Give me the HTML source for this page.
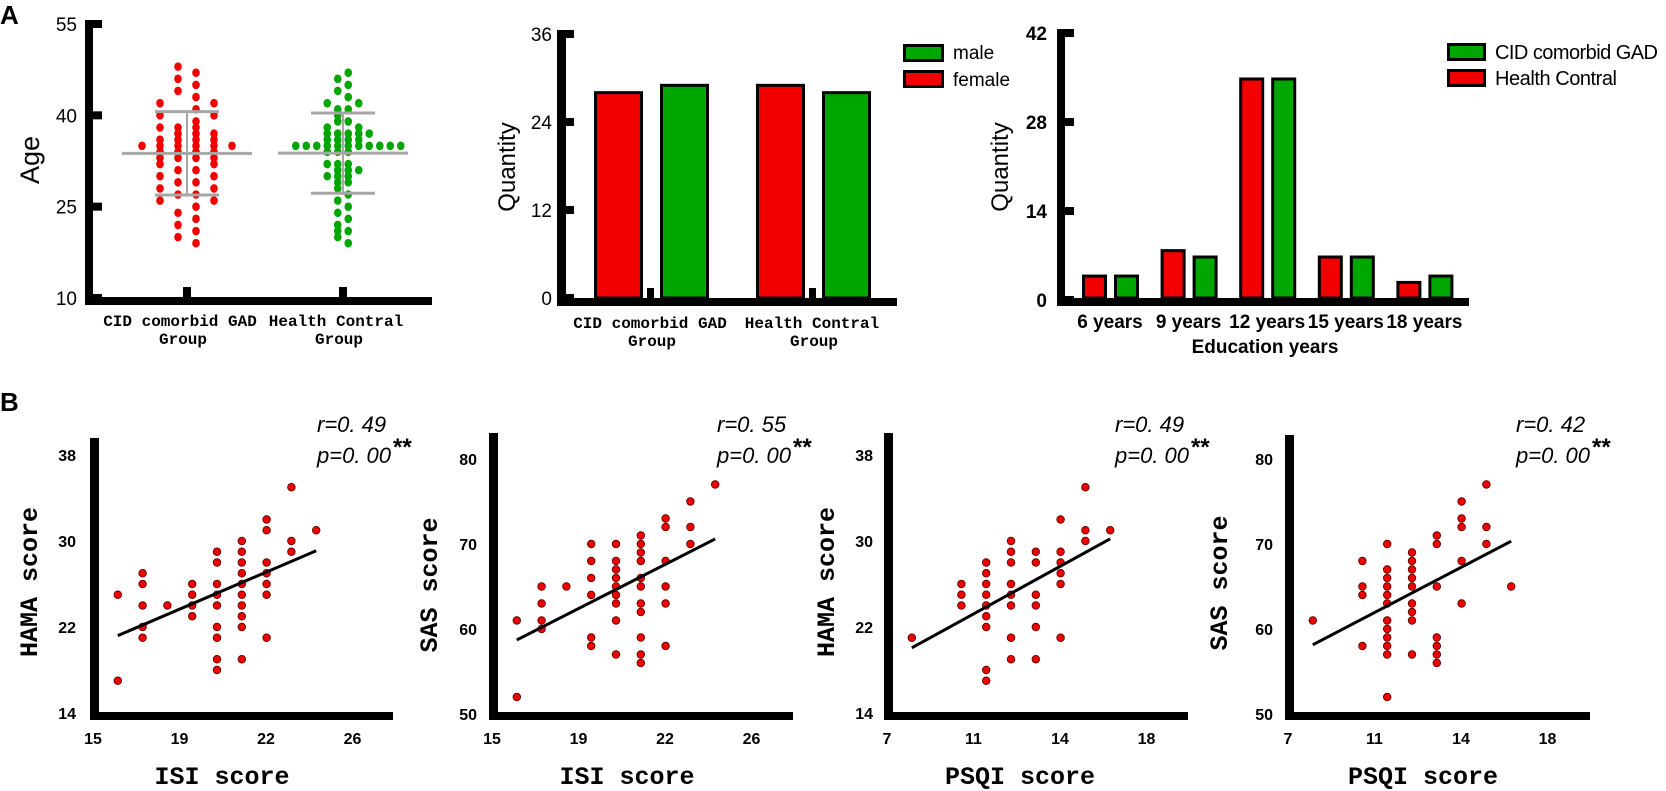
<!DOCTYPE html>
<html><head><meta charset="utf-8"><style>
html,body{margin:0;padding:0;background:#fff;}
svg{display:block;}
text{font-family:"Liberation Sans",sans-serif;fill:#000;}
.mono{font-family:"Liberation Mono","Noto Sans CJK SC",monospace;font-weight:bold;}
.narrow{font-family:"Liberation Sans Narrow","Liberation Sans",sans-serif;}
</style></head><body>
<svg id="fig" width="1666" height="791" viewBox="0 0 1666 791" xmlns="http://www.w3.org/2000/svg">
<text x="0" y="24" font-size="26" font-weight="bold">A</text>
<text x="0" y="411" font-size="26" font-weight="bold">B</text>
</svg>
<script>
// ---------- DATA ----------
const ageGroups = ["CID comorbid GAD", "Health Contral"];
const ageTicks = [10, 25, 40, 55];
const agesCID = [48,47,46,45,44,43,42,42,41,40,40,39,38,38,38,37,37,37,36,36,36,36,35,35,35,35,35,35,34,34,34,34,33,33,33,33,32,32,31,31,30,30,29,29,28,28,27,27,26,26,25,24,23,22,21,20,19];
const agesHC = [47,46,45,44,43,42,42,41,41,40,39,39,38,38,37,37,37,37,37,36,36,36,36,35,35,35,35,35,35,35,35,35,35,35,34,34,34,32,32,32,31,31,31,30,30,30,29,29,28,27,26,25,24,23,22,21,21,20,19];

const sexGroups = ["CID comorbid GAD", "Health Contral"];
const sexTicks = [0, 12, 24, 36];
const femaleCounts = [28, 29];
const maleCounts = [29, 28];

const eduCats = ["6 years", "9 years", "12 years", "15 years", "18 years"];
const eduTicks = [0, 14, 28, 42];
const eduHealth = [4, 8, 35, 7, 3];
const eduCID = [4, 7, 35, 7, 4];

const isiTicks = [15, 19, 22, 26];
const psqiTicks = [7, 11, 14, 18];
const hamaTicks = [14, 22, 30, 38];
const sasTicks = [50, 60, 70, 80];

const b1X = [16,16,17,17,17,17,17,18,19,19,19,19,20,20,20,20,20,20,20,20,20,21,21,21,21,21,21,21,21,21,21,22,22,22,22,22,22,22,23,23,23,24];
const b1Y = [25,17,27,26,24,22,21,24,26,25,24,23,29,28,26,25,24,22,21,19,18,30,29,28,27,26,25,24,23,22,19,32,31,28,27,26,25,21,35,30,29,31];

const b2X = [16,16,17,17,17,17,18,19,19,19,19,19,19,20,20,20,20,20,20,20,20,20,21,21,21,21,21,21,21,21,21,21,21,22,22,22,22,22,22,23,23,23,24];
const b2Y = [61,52,65,63,61,60,65,70,68,66,64,59,58,70,68,67,66,65,64,63,61,57,71,70,69,68,66,65,63,62,59,57,56,73,72,68,65,63,58,75,72,70,77];

const b3X = [8,10,10,10,11,11,11,11,11,11,11,11,11,12,12,12,12,12,12,12,12,13,13,13,13,13,13,14,14,14,14,14,14,15,15,15,16];
const b3Y = [21,26,25,24,28,27,26,25,24,23,22,18,17,30,29,28,26,25,24,21,19,29,28,25,24,22,19,32,29,28,27,26,21,35,31,30,31];

const b4X = [8,10,10,10,10,11,11,11,11,11,11,11,11,11,11,11,11,12,12,12,12,12,12,12,12,12,13,13,13,13,13,13,13,14,14,14,14,14,15,15,15,16];
const b4Y = [61,68,65,64,58,70,67,66,65,64,63,61,60,59,58,57,52,69,68,67,66,65,63,62,61,57,71,70,65,59,58,57,56,75,73,72,68,63,77,72,70,65];

const stats = [["r=0. 49","p=0. 00"],["r=0. 55","p=0. 00"],["r=0. 49","p=0. 00"],["r=0. 42","p=0. 00"]];

// ---------- HELPERS ----------
const NS = "http://www.w3.org/2000/svg";
const svg = document.getElementById("fig");
function mk(tag, attrs, parent) {
  const e = document.createElementNS(NS, tag);
  for (const k in attrs) e.setAttribute(k, attrs[k]);
  (parent || svg).appendChild(e);
  return e;
}
function txt(x, y, s, attrs, parent) {
  const e = mk("text", Object.assign({x: x, y: y}, attrs || {}), parent);
  e.textContent = s;
  return e;
}
const RED = "#f20000", GREEN = "#00a600";

// ---------- A1: Age dot plot ----------
(function(){
  const g = mk("g", {});
  
  
  const yA = v => 298 - (v - 10) * (274 / 45);
  mk("rect", {x: 85, y: 20, width: 8, height: 285, fill: "#000"}, g);
  mk("rect", {x: 85, y: 297, width: 347, height: 8, fill: "#000"}, g);
  ageTicks.forEach(t => {
    mk("rect", {x: 85, y: yA(t) - 4, width: 17, height: 8, fill: "#000"}, g);
    const l = txt(77, yA(t) + 7, String(t), {"font-size": 19, "text-anchor": "end"}, g);
    
    
  });
  const yl = txt(0, 0, "Age", {"font-size": 27, "text-anchor": "middle", transform: "translate(39,160) rotate(-90)"}, g);
  
  
  const centers = [187, 343];
  const steps = [18, 10.5];
  const colors = [RED, GREEN];
  [agesCID, agesHC].forEach((arr, gi) => {
    const cx = centers[gi];
    mk("rect", {x: cx - 4, y: 287, width: 8, height: 12, fill: "#000"}, g);
    const lab = txt(cx - 7, 326, ageGroups[gi], {"font-size": 16, "text-anchor": "middle", class: "mono"}, g);
    
    
    const lab2 = txt(cx - 4, 344, "Group", {"font-size": 16, "text-anchor": "middle", class: "mono"}, g);
    
    
    const counts = {};
    arr.forEach(v => counts[v] = (counts[v] || 0) + 1);
    Object.keys(counts).forEach(k => {
      const v = +k, n = counts[k];
      const par = (v % 2 === 0) ? -1 : 1;
      let shift = (n % 2 === 1) ? 0.5 * par : 0;
      let spread = (n === 2 && v % 2 === 0) ? 3 : 1;
      for (let i = 0; i < n; i++) {
        const off = ((i - (n - 1) / 2) * spread + shift) * steps[gi];
        const c = mk("ellipse", {cx: cx + off, cy: yA(v), rx: 3.8, ry: 4.3, fill: colors[gi]}, g);
        
        
      }
    });
    const mean = arr.reduce((a, b) => a + b, 0) / arr.length;
    const sd = Math.sqrt(arr.reduce((a, b) => a + (b - mean) ** 2, 0) / (arr.length - 1));
    const mw = 65, sw = 32;
    mk("line", {x1: cx, x2: cx, y1: yA(mean + sd), y2: yA(mean - sd), stroke: "#a6a6a6", "stroke-width": 2}, g);
    const ml = mk("line", {x1: cx - mw, x2: cx + mw, y1: yA(mean), y2: yA(mean), stroke: "#a6a6a6", "stroke-width": 3}, g);
    
    
    [mean + sd, mean - sd].forEach(s => {
      const sl = mk("line", {x1: cx - sw, x2: cx + sw, y1: yA(s), y2: yA(s), stroke: "#a6a6a6", "stroke-width": 3}, g);
      
      
    });
  });
})();

// ---------- A2: Sex bar chart ----------
(function(){
  const g = mk("g", {});
  
  
  const yS = v => 298 - v * (264 / 36);
  mk("rect", {x: 557, y: 31, width: 9, height: 275, fill: "#000"}, g);
  mk("rect", {x: 557, y: 298, width: 340, height: 8, fill: "#000"}, g);
  sexTicks.forEach(t => {
    mk("rect", {x: 557, y: yS(t) - 4, width: 17, height: 8, fill: "#000"}, g);
    const l = txt(552, yS(t) + 7, String(t), {"font-size": 19, "text-anchor": "end"}, g);
    
    
  });
  const yl = txt(0, 0, "Quantity", {"font-size": 24, "text-anchor": "middle", transform: "translate(515,167) rotate(-90)"}, g);
  
  
  const gx = [594, 756];
  sexGroups.forEach((name, i) => {
    const r = mk("rect", {x: gx[i] + 1.5, y: yS(femaleCounts[i]), width: 46, height: 298 - yS(femaleCounts[i]), fill: RED, stroke: "#000", "stroke-width": 3}, g);
    
    
    const m = mk("rect", {x: gx[i] + 67.5, y: yS(maleCounts[i]), width: 46, height: 298 - yS(maleCounts[i]), fill: GREEN, stroke: "#000", "stroke-width": 3}, g);
    
    
    mk("rect", {x: gx[i] + 53, y: 288, width: 7, height: 12, fill: "#000"}, g);
    const lab = txt(gx[i] + 56, 328, name, {"font-size": 16, "text-anchor": "middle", class: "mono"}, g);
    
    
    const lab2 = txt(gx[i] + 58, 346, "Group", {"font-size": 16, "text-anchor": "middle", class: "mono"}, g);
    
    
  });
  const lg = mk("g", {}, g);
  
  
  mk("rect", {x: 904.5, y: 45.5, width: 38, height: 15, fill: GREEN, stroke: "#000", "stroke-width": 3}, lg);
  mk("rect", {x: 904.5, y: 71.5, width: 38, height: 15, fill: RED, stroke: "#000", "stroke-width": 3}, lg);
  txt(953, 59, "male", {"font-size": 19}, lg);
  txt(953, 86, "female", {"font-size": 19}, lg);
})();

// ---------- A3: Education bar chart ----------
(function(){
  const g = mk("g", {});
  
  
  const yE = v => 300 - v * (267 / 42);
  const xE = i => 1082 + i * 78.6;
  mk("rect", {x: 1057, y: 29, width: 8, height: 277, fill: "#000"}, g);
  mk("rect", {x: 1057, y: 298, width: 412, height: 8, fill: "#000"}, g);
  eduTicks.forEach(t => {
    mk("rect", {x: 1057, y: yE(t) - 4, width: 17, height: 8, fill: "#000"}, g);
    const l = txt(1047, yE(t) + 7, String(t), {"font-size": 19, "font-weight": "bold", "text-anchor": "end", class: "narrow"}, g);
    
    
  });
  const yl = txt(0, 0, "Quantity", {"font-size": 24, "text-anchor": "middle", transform: "translate(1008,167) rotate(-90)"}, g);
  
  
  eduCats.forEach((c, i) => {
    const r = mk("rect", {x: xE(i) + 1.5, y: yE(eduHealth[i]) + 1.5, width: 22, height: 298 - yE(eduHealth[i]) - 1.5, fill: RED, stroke: "#000", "stroke-width": 3}, g);
    
    
    const m = mk("rect", {x: xE(i) + 33.5, y: yE(eduCID[i]) + 1.5, width: 22, height: 298 - yE(eduCID[i]) - 1.5, fill: GREEN, stroke: "#000", "stroke-width": 3}, g);
    
    
    const l = txt(xE(i) + 28, 328, c, {"font-size": 19, "font-weight": "bold", "text-anchor": "middle", class: "narrow"}, g);
    
    
  });
  const xt = txt(1265, 353, "Education years", {"font-size": 19, "font-weight": "bold", "text-anchor": "middle"}, g);
  
  
  const lg = mk("g", {}, g);
  
  
  mk("rect", {x: 1448.5, y: 44.5, width: 36, height: 15, fill: GREEN, stroke: "#000", "stroke-width": 3}, lg);
  mk("rect", {x: 1448.5, y: 70.5, width: 36, height: 15, fill: RED, stroke: "#000", "stroke-width": 3}, lg);
  txt(1495, 59, "CID comorbid GAD", {"font-size": 20, textLength: 163, class: "narrow"}, lg);
  txt(1495, 85, "Health Contral", {"font-size": 20, textLength: 122, class: "narrow"}, lg);
})();

// ---------- B: scatter panels ----------
function scatter(cfg) {
  const g = mk("g", {});
  
  
  const x0 = cfg.x0;
  const xS = v => x0 + 3 + (v - cfg.xTicks[0]) * 24.8;
  const yS = v => cfg.yBase - (v - cfg.yTicks[0]) * cfg.yPx;
  mk("rect", {x: x0, y: cfg.top, width: 9, height: 720 - cfg.top, fill: "#000"}, g);
  mk("rect", {x: x0, y: 712, width: cfg.xEnd - x0, height: 8, fill: "#000"}, g);
  cfg.yTicks.forEach(t => {
    const l = txt(cfg.yLabRight, yS(t) + 6, String(t), {"font-size": 16, "font-weight": "bold", "text-anchor": "end"}, g);
    
    
  });
  cfg.xTicks.forEach((t, i) => {
    const l = txt(x0 + 3 + i * 86.5, 744, String(t), {"font-size": 16, "font-weight": "bold", "text-anchor": "middle"}, g);
    
    
  });
  const yl = txt(0, 0, cfg.yTitle, {"font-size": 25, "text-anchor": "middle", class: "mono", transform: "translate(" + (cfg.yTitleX + 9) + "," + cfg.yTitleY + ") rotate(-90)"}, g);
  
  
  const xl = txt(cfg.xTitleX, 784, cfg.xTitle, {"font-size": 25, "text-anchor": "middle", class: "mono"}, g);
  
  
  const n = cfg.xs.length;
  const mx = cfg.xs.reduce((a, b) => a + b, 0) / n, my = cfg.ys.reduce((a, b) => a + b, 0) / n;
  let sxy = 0, sxx = 0;
  for (let i = 0; i < n; i++) { sxy += (cfg.xs[i] - mx) * (cfg.ys[i] - my); sxx += (cfg.xs[i] - mx) ** 2; }
  const b = sxy / sxx, a = my - b * mx;
  const xmin = Math.min.apply(null, cfg.xs), xmax = Math.max.apply(null, cfg.xs);
  cfg.xs.forEach((xv, i) => {
    const c = mk("circle", {cx: xS(xv), cy: yS(cfg.ys[i]), r: 3.8, fill: "#ee0000", stroke: "#500", "stroke-width": 0.8}, g);
    
    
  });
  const ln = mk("line", {x1: xS(xmin), y1: yS(a + b * xmin), x2: xS(xmax), y2: yS(a + b * xmax), stroke: "#000", "stroke-width": 3}, g);
  
  
  const r = txt(cfg.statX, 432, cfg.stat[0], {"font-size": 22, "font-style": "italic"}, g);
  
  
  const p = txt(cfg.statX, 463, cfg.stat[1], {"font-size": 22, "font-style": "italic"}, g);
  
  
  const s = txt(cfg.statX + 76, 455, "**", {"font-size": 24, "font-weight": "bold"}, g);
  
  
}
scatter({name: "scatter-isi-hama", x0: 90, top: 438, xEnd: 393, xTicks: isiTicks, yTicks: hamaTicks, yBase: 713, yPx: 10.75, yLabRight: 76, xs: b1X, ys: b1Y, yTitle: "HAMA score", xTitle: "ISI score", yTitleX: 28, yTitleY: 582, xTitleX: 222, statX: 317, stat: stats[0]});
scatter({name: "scatter-isi-sas", x0: 489, top: 433, xEnd: 793, xTicks: isiTicks, yTicks: sasTicks, yBase: 714, yPx: 8.5, yLabRight: 477, xs: b2X, ys: b2Y, yTitle: "SAS score", xTitle: "ISI score", yTitleX: 428, yTitleY: 585, xTitleX: 627, statX: 717, stat: stats[1]});
scatter({name: "scatter-psqi-hama", x0: 884, top: 433, xEnd: 1188, xTicks: psqiTicks, yTicks: hamaTicks, yBase: 713, yPx: 10.75, yLabRight: 873, xs: b3X, ys: b3Y, yTitle: "HAMA score", xTitle: "PSQI score", yTitleX: 825, yTitleY: 582, xTitleX: 1020, statX: 1115, stat: stats[2]});
scatter({name: "scatter-psqi-sas", x0: 1285, top: 435, xEnd: 1590, xTicks: psqiTicks, yTicks: sasTicks, yBase: 714, yPx: 8.5, yLabRight: 1273, xs: b4X, ys: b4Y, yTitle: "SAS score", xTitle: "PSQI score", yTitleX: 1218, yTitleY: 583, xTitleX: 1423, statX: 1516, stat: stats[3]});
</script>
</body></html>
